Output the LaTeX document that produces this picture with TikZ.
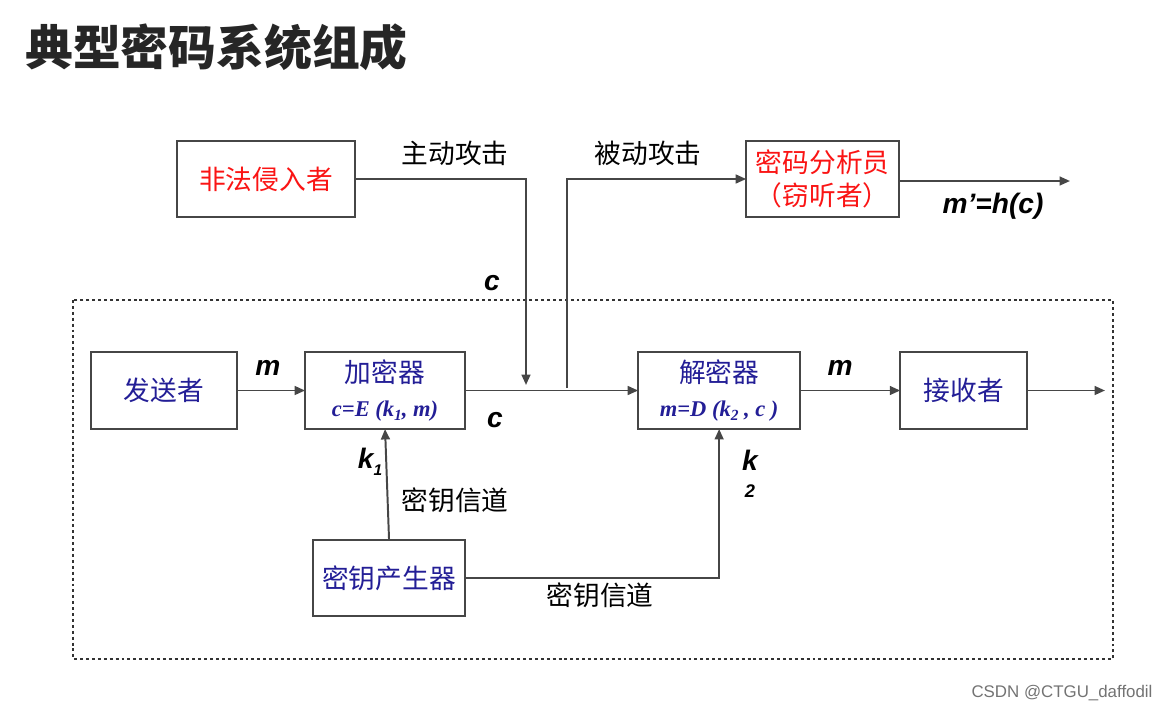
\documentclass[tikz,border=0pt]{standalone}
\usepackage{fontspec}
\setmainfont{Liberation Serif}
\newfontfamily\cjk{Noto Sans CJK SC}
\newfontfamily\arialfont{Liberation Sans}
\usetikzlibrary{positioning,arrows.meta}
\definecolor{redtxt}{RGB}{250,20,20}
\definecolor{bluetxt}{RGB}{35,30,150}
\definecolor{linegray}{RGB}{70,70,70}
\newcommand{\idx}[1]{\raisebox{-0.45ex}{\fontsize{11}{11}\selectfont #1}}
\newcommand{\frmfont}{\rmfamily\bfseries\itshape\fontsize{16}{16}\selectfont}

\tikzset{
  box/.style={draw=linegray, line width=1.4pt, minimum height=1.925cm, inner sep=2pt, outer sep=0pt,
    align=center, font=\cjk\fontsize{19}{24}\selectfont},
  lbl/.style={font=\cjk\fontsize{19}{19}\selectfont, inner sep=0pt},
  sym/.style={font=\arialfont\bfseries\itshape\fontsize{20}{20}\selectfont, inner sep=0pt},
  arr/.style={draw=linegray, line width=1.4pt, -{Triangle[length=2.6mm,width=2.2mm]}},
  dotbox/.style={draw=black!80, line width=2.1pt, dash pattern=on 2.1pt off 2.1pt}
}

\begin{document}
\begin{tikzpicture}[x=0.025cm, y=-0.025cm]
  \useasboundingbox (0,0) rectangle (1172,713);
  \node[anchor=west, inner sep=0pt, font=\cjk\bfseries\fontsize{34}{34}\selectfont, text=black!85] (title) at (25,47) {典型密码系统组成};

  % attackers
  \node[box, minimum width=4.45cm, minimum height=1.9cm, text=redtxt] (intruder) at (266,179) {非法侵入者};
  \node[box, minimum width=3.825cm, minimum height=1.9cm, text=redtxt, right=9.775cm of intruder] (analyst) {密码分析员\\（窃听者）};

  % main chain
  \node[box, minimum width=3.65cm, text=bluetxt] (sender) at (164,390.5) {发送者};
  \node[box, minimum width=4cm, text=bluetxt, right=1.7cm of sender] (enc) {加密器\\{\frmfont c=E (k\idx{1}, m)}};
  \node[box, minimum width=4.05cm, text=bluetxt, right=4.325cm of enc] (dec) {解密器\\{\frmfont m=D (k\idx{2} , c )}};
  \node[box, minimum width=3.175cm, text=bluetxt, right=2.5cm of dec] (recv) {接收者};
  \node[box, minimum width=3.8cm, minimum height=1.9cm, text=bluetxt, below=2.775cm of enc, xshift=0.1cm] (keygen) {密钥产生器};

  \coordinate (atk) at (526,385);
  \coordinate (tap) at (567,388);
  \coordinate (mout) at (1070,181);
  \coordinate (out) at (1105,390.5);

  \draw[dotbox] (73,300) rectangle (1113,659);

  \draw[arr] (intruder.east) -| (atk);
  \draw[arr] (tap) |- (analyst.west);
  \draw[arr] (analyst.east |- mout) -- (mout);
  \draw[arr] (sender) -- (enc);
  \draw[arr] (enc) -- (dec);
  \draw[arr] (dec) -- (recv);
  \draw[arr] (recv) -- (out);
  \draw[arr] (keygen.north) -- (enc.south);
  \draw[arr] (keygen.east) -| (dec.south);

  % labels
  \node[lbl] (act) at (455,153) {主动攻击};
  \node[lbl] (pas) at (648,153) {被动攻击};
  \node[lbl] (ch1) at (455,500) {密钥信道};
  \node[lbl] (ch2) at (600,595) {密钥信道};
  \node[sym] (c1) at (492,283) {c};
  \node[sym] (c2) at (495,420) {c};
  \node[sym] (m1) at (268,368) {m};
  \node[sym] (m2) at (840,368) {m};
  \node[sym] (mh) at (993,206) {m’=h(c)};
  \node[sym] (k1) at (370,462) {k\idx{1}};
  \node[sym, align=center] (k2) at (750,474) {k\\[-1pt]{\fontsize{13}{13}\selectfont 2}};
  \node[inner sep=0pt, font=\arialfont\fontsize{12}{12}\selectfont, text=black!55] (wm) at (1062,693) {CSDN @CTGU\_daffodil};
\end{tikzpicture}
\end{document}
